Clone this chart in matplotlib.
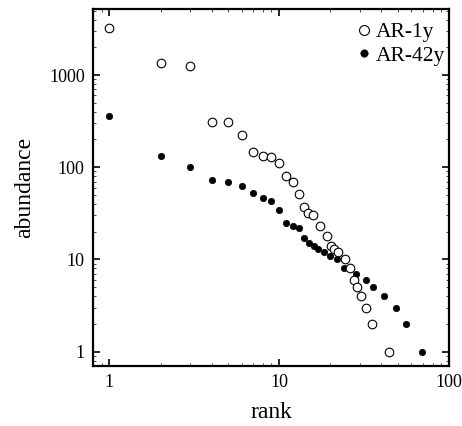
import matplotlib
matplotlib.use("Agg")
import matplotlib.pyplot as plt
from matplotlib.ticker import LogLocator, FixedLocator, NullFormatter

# rank-abundance
rank_1y = [1, 2, 3, 4, 5, 6, 7, 8, 9, 10, 11, 12, 13, 13.9, 14.8, 15.9,
           17.4, 19.0, 20.1, 20.9, 22.3, 24.3, 26.0, 27.4, 28.9, 30.3,
           32.6, 35.4, 44.6]
abund_1y = [3220, 1340, 1265, 310, 308, 226, 145, 134, 130, 110, 81, 70,
            51, 37, 32, 30, 23, 18, 14, 13, 12, 10, 8, 6, 5, 4, 3, 2, 1]

rank_42y = [1, 2, 3, 4, 5, 6, 7, 8, 9, 10, 11, 12, 13, 14, 15, 16, 17,
            18.4, 20, 22, 24.1, 28.5, 32.5, 35.9, 41.5, 48.6, 55.8, 69.4]
abund_42y = [357, 133, 101, 72, 70, 62, 53, 46, 43, 34, 25, 23, 22, 17, 15,
             14, 13, 12, 11, 10, 8, 7, 6, 5, 4, 3, 2, 1]

plt.rcParams.update({
    "font.family": ["Liberation Serif", "DejaVu Serif"],
    "font.size": 13,
})

fig = plt.figure(figsize=(4.62, 4.26), dpi=100)
ax = fig.add_axes([93 / 462, 1 - 366 / 426, 356 / 462, 357 / 426])

ax.plot(rank_1y, abund_1y, "o", ms=6.2, mfc="white", mec="black", mew=0.8,
        label="AR-1y", zorder=3)
ax.plot(rank_42y, abund_42y, "o", ms=4.6, mfc="black", mec="black", mew=0.5,
        label="AR-42y", zorder=2)

ax.set_xscale("log")
ax.set_yscale("log")
ax.set_xlim(0.8, 100)
ax.set_ylim(0.70, 5200)

ax.xaxis.set_major_locator(FixedLocator([1, 10, 100]))
ax.yaxis.set_major_locator(FixedLocator([1, 10, 100, 1000]))
ax.set_xticklabels(["1", "10", "100"])
ax.set_yticklabels(["1", "10", "100", "1000"])
ax.xaxis.set_minor_locator(LogLocator(base=10, subs=range(2, 10)))
ax.yaxis.set_minor_locator(LogLocator(base=10, subs=range(2, 10)))
ax.xaxis.set_minor_formatter(NullFormatter())
ax.yaxis.set_minor_formatter(NullFormatter())

ax.tick_params(which="both", direction="in", top=True, right=True)
ax.tick_params(which="major", length=5, width=1.2, labelsize=13, pad=6)
ax.tick_params(which="minor", length=2.5, width=0.5)
for s in ax.spines.values():
    s.set_linewidth(1.6)

ax.set_xlabel("rank", fontsize=17, labelpad=8)
ax.set_ylabel("abundance", fontsize=17, labelpad=10)

ax.legend(loc="upper right", bbox_to_anchor=(1.0, 0.975), frameon=False,
          fontsize=15.5, handletextpad=0.15, handlelength=0.8,
          labelspacing=0.15, borderpad=0.1, borderaxespad=0.1,
          markerscale=1.15)

fig.savefig("out.png", dpi=100)
